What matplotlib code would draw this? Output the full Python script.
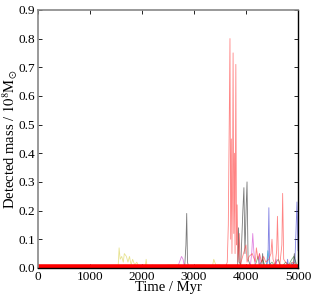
import matplotlib
matplotlib.use("Agg")
import matplotlib.pyplot as plt

# detected mass per tracked object (time in Myr, mass in 1e8 Msun)
red_t = [0, 3600, 3640, 3660, 3680, 3692, 3705, 3718, 3730, 3742, 3752, 3765, 3778,
         3790, 3805, 3818, 3830, 3845, 3860, 3872, 3890, 3920, 4000, 4020, 4060, 4120,
         4180, 4200, 4230, 4260, 4300, 4340, 4380, 4440, 4480, 4500, 4520, 4560, 4590,
         4605, 4625, 4650, 4690, 4705, 4725, 4760, 4820, 4900, 5000]
red_m = [0.0, 0.0, 0.02, 0.15, 0.55, 0.80, 0.10, 0.45, 0.05, 0.30, 0.75, 0.12, 0.40,
         0.05, 0.71, 0.08, 0.22, 0.02, 0.06, 0.12, 0.01, 0.03, 0.08, 0.02, 0.04, 0.05,
         0.02, 0.07, 0.03, 0.05, 0.02, 0.04, 0.02, 0.03, 0.05, 0.10, 0.03, 0.01, 0.06,
         0.18, 0.03, 0.01, 0.08, 0.26, 0.03, 0.02, 0.01, 0.02, 0.0]

black_t = [0, 2820, 2845, 2860, 2875, 2900, 3700, 3840, 3855, 3870, 3900, 3940, 3960,
           3980, 4005, 4020, 4040, 4100, 4300, 4320, 4340, 4900, 4930, 4950, 5000]
black_m = [0.0, 0.0, 0.08, 0.19, 0.02, 0.0, 0.0, 0.01, 0.14, 0.02, 0.01, 0.20, 0.28,
           0.05, 0.22, 0.30, 0.03, 0.0, 0.0, 0.05, 0.0, 0.0, 0.05, 0.01, 0.0]

blue_t = [0, 4400, 4425, 4440, 4455, 4480, 4780, 4800, 4820, 4940, 4960, 4980, 5000]
blue_m = [0.0, 0.0, 0.05, 0.21, 0.02, 0.0, 0.0, 0.03, 0.0, 0.02, 0.12, 0.23, 0.06]

magenta_t = [0, 2680, 2720, 2760, 2790, 2820, 4080, 4110, 4130, 4150, 4180, 4240,
             4260, 4280, 4560, 4580, 4600, 5000]
magenta_m = [0.0, 0.0, 0.02, 0.04, 0.03, 0.0, 0.0, 0.05, 0.12, 0.06, 0.0, 0.0, 0.05,
             0.0, 0.0, 0.03, 0.0, 0.0]

cyan_t = [0, 4380, 4400, 4420, 4440, 4460, 4860, 4880, 4900, 5000]
cyan_m = [0.0, 0.0, 0.02, 0.06, 0.03, 0.0, 0.0, 0.02, 0.0, 0.0]

yellow_t = [0, 1540, 1560, 1580, 1610, 1640, 1660, 1700, 1730, 1760, 1790, 1820, 1860,
            1900, 1950, 2000, 2060, 2080, 2100, 2200, 2300, 2500, 2700, 2900, 3050,
            3200, 3350, 3380, 3420, 3500, 3600, 3700, 5000]
yellow_m = [0.0, 0.0, 0.07, 0.03, 0.04, 0.02, 0.05, 0.04, 0.02, 0.04, 0.01, 0.03, 0.01,
            0.02, 0.0, 0.01, 0.0, 0.03, 0.0, 0.01, 0.0, 0.01, 0.01, 0.0, 0.01, 0.01,
            0.0, 0.03, 0.01, 0.01, 0.0, 0.0, 0.0]

green_t = [0, 4150, 4200, 4230, 4260, 4320, 4380, 4500, 4540, 4620, 4680, 4760, 4820,
           4880, 4920, 5000]
green_m = [0.0, 0.0, 0.02, 0.04, 0.01, 0.03, 0.0, 0.02, 0.01, 0.03, 0.0, 0.02, 0.01,
           0.03, 0.04, 0.0]

series = [
    (yellow_t, yellow_m, "#d8d04a"),
    (green_t, green_m, "#2a7a2a"),
    (cyan_t, cyan_m, "#00b8c8"),
    (magenta_t, magenta_m, "#cc33cc"),
    (blue_t, blue_m, "#3030d0"),
    (black_t, black_m, "#202020"),
    (red_t, red_m, "#ff3333"),
]

plt.rcParams["font.family"] = ["Liberation Serif", "DejaVu Serif"]
plt.rcParams["mathtext.fontset"] = "stix"
plt.rcParams["font.size"] = 9

fig = plt.figure(figsize=(3.14, 3.0), dpi=100)
ax = fig.add_axes([0.121, 0.107, 0.828, 0.86])

for t, m, c in series:
    ax.plot(t, m, color=c, lw=0.6, alpha=0.6)

# thick baseline band at zero
ax.plot([0, 5000], [0.004, 0.004], color="red", lw=4, solid_capstyle="butt")

ax.set_xlim(0, 5000)
ax.set_ylim(0, 0.9)
ax.set_xticks([0, 1000, 2000, 3000, 4000, 5000])
ax.set_yticks([0.0, 0.1, 0.2, 0.3, 0.4, 0.5, 0.6, 0.7, 0.8, 0.9])
ax.set_yticklabels(["%.1f" % v for v in ax.get_yticks()])
ax.tick_params(direction="in", top=True, right=True, length=3, width=0.6, pad=2,
               labelsize=9.5)
for side in ["left", "top"]:
    ax.spines[side].set_color("#888888")
    ax.spines[side].set_linewidth(1.2)
for side in ["right", "bottom"]:
    ax.spines[side].set_color("black")
    ax.spines[side].set_linewidth(1.0)

ax.set_xlabel("Time / Myr", fontsize=10.5, labelpad=-1)
ax.set_ylabel(r"Detected mass / $10^8\mathrm{M}_{\odot}$", fontsize=10.5)
ax.yaxis.set_label_coords(-0.069, 0.5)

fig.savefig("out.png", dpi=100)
